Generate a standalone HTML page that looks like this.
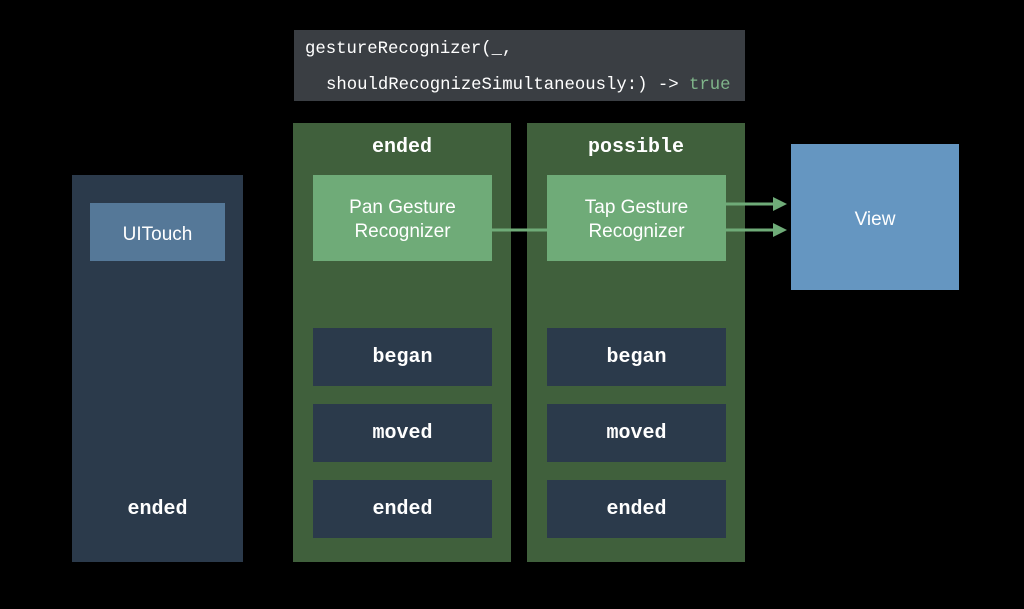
<!DOCTYPE html>
<html><head><meta charset="utf-8"><style>
html,body{margin:0;padding:0;background:#000;}
body{width:1024px;height:609px;position:relative;overflow:hidden;}
.b{position:absolute;box-sizing:border-box;display:flex;align-items:center;justify-content:center;text-align:center;color:#fff;white-space:nowrap;}
.mono{font-family:"Liberation Mono",monospace;font-weight:bold;font-size:20px;}
.sans{font-family:"Liberation Sans",sans-serif;font-size:19px;line-height:24px;}
.panel{background:#40603c;}
.navy{background:#2b3a4b;}
.lg{background:#6fab78;}
.code{position:absolute;font-family:"Liberation Mono",monospace;font-size:17.3px;color:#fff;white-space:nowrap;}
</style></head><body>
<div style="position:absolute;left:294px;top:30px;width:451px;height:71px;background:#3a3e43;">
<div class="code" style="left:11px;top:10px;">gestureRecognizer(_,</div>
<div class="code" style="left:32px;top:46px;">shouldRecognizeSimultaneously:) -&gt; <span style="color:#7fb48a">true</span></div>
</div>

<div class="b navy" style="left:72px;top:175px;width:171px;height:387px;"></div>
<div class="b sans" style="left:90px;top:203px;width:135px;height:58px;background:#557898;padding-top:5px;">UITouch</div>
<div class="b mono" style="left:72px;top:495px;width:171px;height:28px;">ended</div>

<div class="b panel" style="left:293px;top:123px;width:218px;height:439px;"></div>
<div class="b panel" style="left:527px;top:123px;width:218px;height:439px;"></div>
<div class="b mono" style="left:293px;top:133px;width:218px;height:28px;">ended</div>
<div class="b mono" style="left:527px;top:133px;width:218px;height:28px;">possible</div>

<div class="b lg sans" style="left:313px;top:175px;width:179px;height:86px;padding-top:4px;">Pan Gesture<br>Recognizer</div>
<div class="b lg sans" style="left:547px;top:175px;width:179px;height:86px;padding-top:4px;">Tap Gesture<br>Recognizer</div>

<div class="b navy mono" style="left:313px;top:328px;width:179px;height:58px;">began</div>
<div class="b navy mono" style="left:313px;top:404px;width:179px;height:58px;">moved</div>
<div class="b navy mono" style="left:313px;top:480px;width:179px;height:58px;">ended</div>
<div class="b navy mono" style="left:547px;top:328px;width:179px;height:58px;">began</div>
<div class="b navy mono" style="left:547px;top:404px;width:179px;height:58px;">moved</div>
<div class="b navy mono" style="left:547px;top:480px;width:179px;height:58px;">ended</div>

<div class="b sans" style="left:791px;top:144px;width:168px;height:146px;background:#6596c1;padding-top:6px;">View</div>

<svg width="1024" height="609" style="position:absolute;left:0;top:0;">
<line x1="492" y1="230" x2="547" y2="230" stroke="#6fab78" stroke-width="3"/>
<line x1="726" y1="204" x2="775" y2="204" stroke="#6fab78" stroke-width="3"/>
<line x1="726" y1="230" x2="775" y2="230" stroke="#6fab78" stroke-width="3"/>
<polygon points="773,197 787,204 773,211" fill="#6fab78"/>
<polygon points="773,223 787,230 773,237" fill="#6fab78"/>
</svg>
</body></html>
